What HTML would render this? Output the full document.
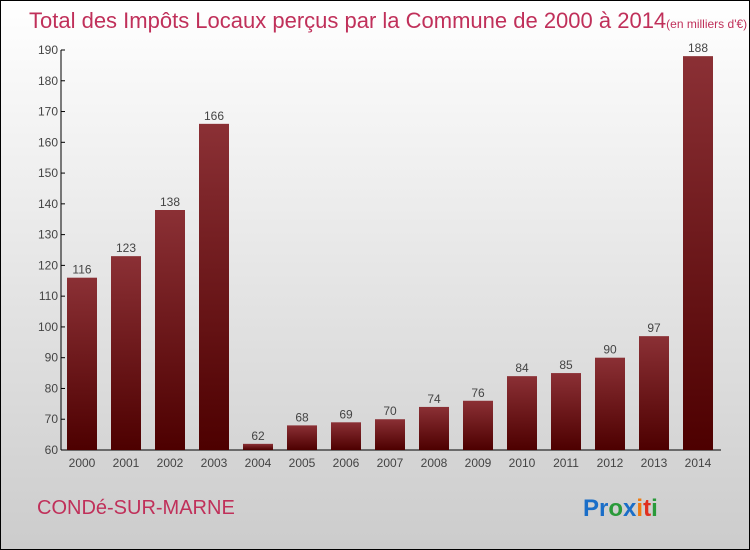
<!DOCTYPE html>
<html><head><meta charset="utf-8"><style>
body{margin:0}
#c{position:relative;width:748px;height:548px;border:1px solid #000;background:linear-gradient(#fff,#ccc);font-family:"Liberation Sans",sans-serif;overflow:hidden}
</style></head><body>
<div id="c">
<svg width="748" height="548">
<text x="28" y="27" font-size="22" fill="#c0305a">Total des Impôts Locaux perçus par la Commune de 2000 à 2014<tspan font-size="12">(en milliers d'€)</tspan></text>
<defs><linearGradient id="g" x1="0" y1="0" x2="0" y2="1"><stop offset="0" stop-color="#8b3035"/><stop offset="1" stop-color="#4d0000"/></linearGradient></defs>
<g id="plot"></g>
<text x="36" y="513" font-size="20" fill="#c0305a">CONDé-SUR-MARNE</text>
<text x="582" y="515" font-size="24" font-weight="bold"><tspan fill="#1a6ec8">Pr</tspan><tspan fill="#2a9a3a">o</tspan><tspan fill="#1a6ec8">x</tspan><tspan fill="#f07a10">i</tspan><tspan fill="#e03020">t</tspan><tspan fill="#2a9a3a">i</tspan></text>
</svg></div>
<script>
const years=["2000","2001","2002","2003","2004","2005","2006","2007","2008","2009","2010","2011","2012","2013","2014"];
const values=[116,123,138,166,62,68,69,70,74,76,84,85,90,97,188];
const ticks=[60,70,80,90,100,110,120,130,140,150,160,170,180,190];
const ns="http://www.w3.org/2000/svg";
const g=document.getElementById('plot');
const y=v=>449-(v-60)*400/130;
const x=i=>81+i*44;
function mk(t,a){const e=document.createElementNS(ns,t);for(const k in a)e.setAttribute(k,a[k]);g.appendChild(e);return e;}
let ax=mk('line',{x1:60,y1:49,x2:60,y2:449,stroke:'#000'});


let bx=mk('line',{x1:60,y1:449,x2:720,y2:449,stroke:'#000'});


ticks.forEach(t=>{
 const l=mk('line',{x1:60,x2:64,y1:y(t),y2:y(t),stroke:'#000'});
 
 
 const tx=mk('text',{x:57,y:y(t)+4,'font-size':12,fill:'#444','text-anchor':'end'});
 tx.textContent=t;
 
 
});
years.forEach((yr,i)=>{
 const v=values[i];
 const r=mk('rect',{x:x(i)-15,y:y(v),width:30,height:449-y(v),fill:'url(#g)'});
 
 
 const lb=mk('text',{x:x(i),y:y(v)-4,'font-size':12,fill:'#444','text-anchor':'middle'});
 lb.textContent=v;
 
 
 const xl=mk('text',{x:x(i),y:466,'font-size':12,fill:'#444','text-anchor':'middle'});
 xl.textContent=yr;
 
 
});
</script>
</body></html>
